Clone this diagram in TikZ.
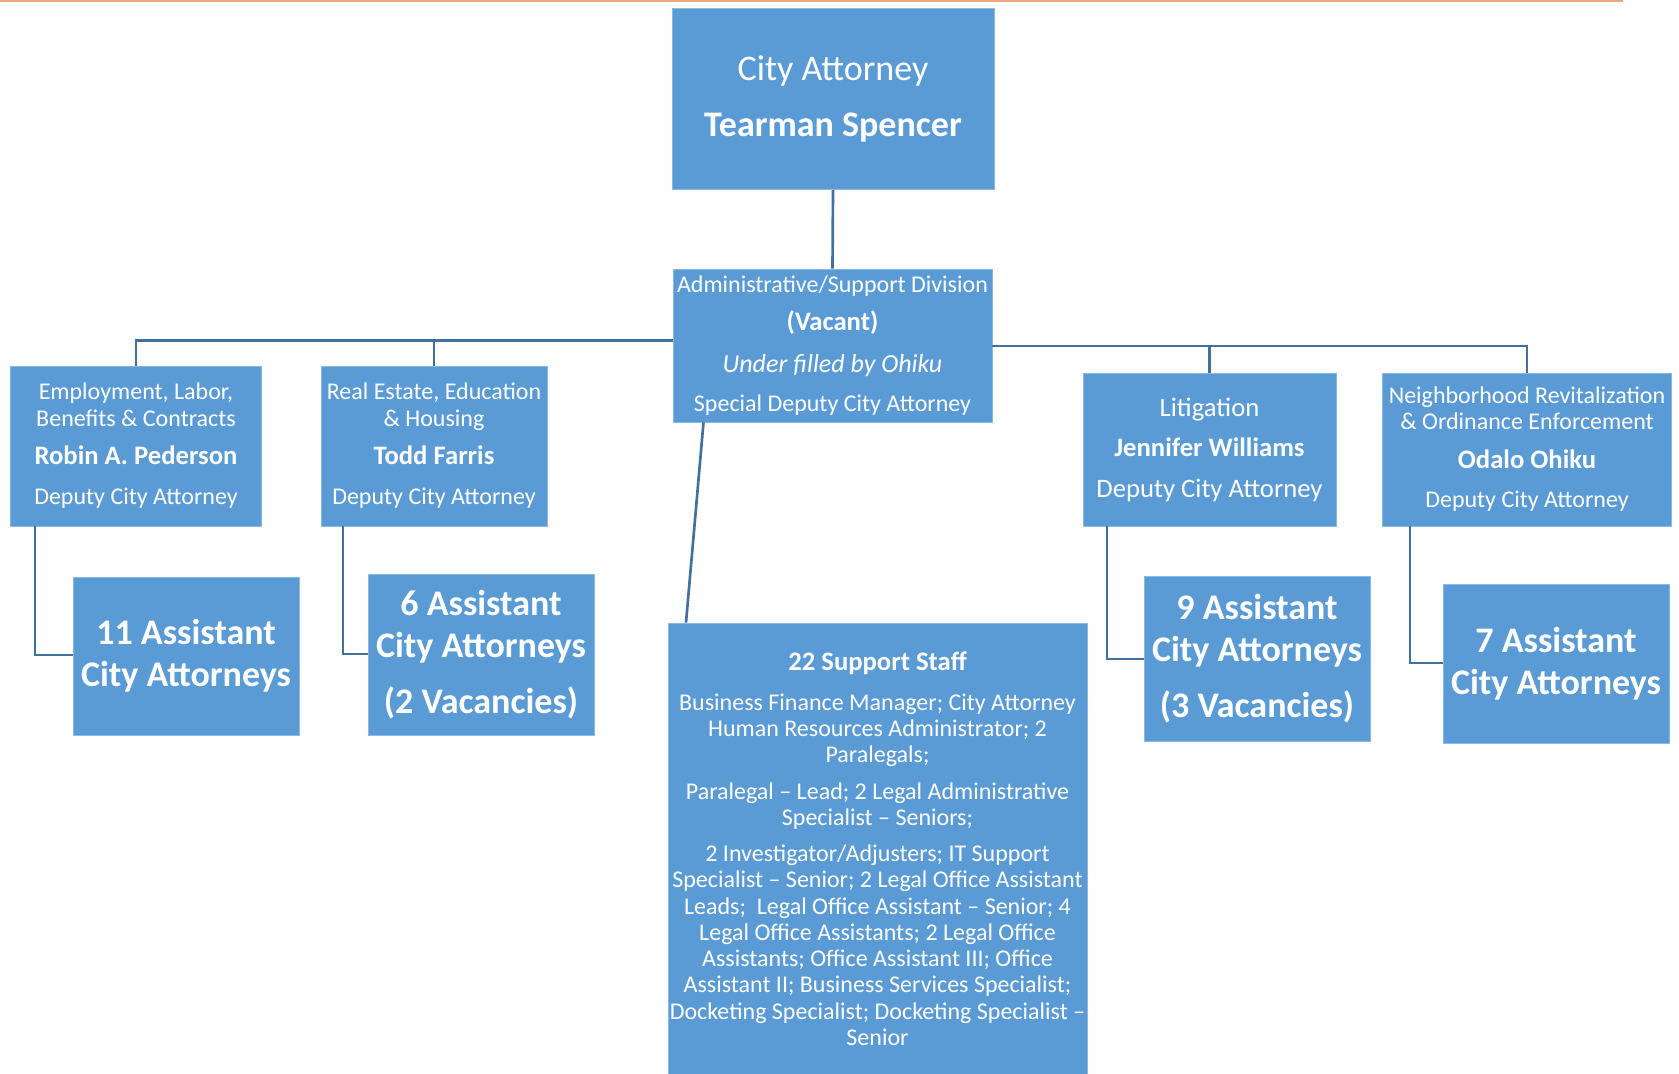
\documentclass[tikz,border=0pt]{standalone}
\usepackage{fontspec}
\setmainfont{Carlito}
\definecolor{boxblue}{HTML}{5B9BD5}
\definecolor{linkblue}{HTML}{41719C}
\definecolor{topline}{HTML}{E8A87C}
\begin{document}
\begin{tikzpicture}[x=0.75pt,y=-0.75pt,
  orgbox/.style={fill=boxblue,draw=boxblue!70!white,line width=0.6pt,inner sep=0pt,align=center,text=white},
  link/.style={draw=linkblue,line width=2pt},
  rulestyle/.style={draw=topline,line width=1.5pt}]
\useasboundingbox (0,0) rectangle (1679,1074);
\draw[rulestyle] (0,1) -- (1623,1);

% top level
\node[orgbox,minimum width=241.5pt,minimum height=136pt,font=\fontsize{27}{42}\selectfont] (city) at (833,99)
  {City Attorney\\{\bfseries Tearman Spencer}};

\node[orgbox,minimum width=239.25pt,minimum height=114.75pt,font=\fontsize{18}{28.5}\selectfont] (admin) at (832.5,345.5)
  {Administrative/Support Division\\{\fontsize{20}{28.5}\selectfont\bfseries (Vacant)}\\[3pt]{\fontsize{19.5}{28.5}\selectfont\itshape Under filled by Ohiku}\\[0.75pt]Special Deputy City Attorney};

% divisions
\node[orgbox,minimum width=188.25pt,minimum height=120pt,font=\fontsize{18}{20.25}\selectfont] (emp) at (136,446)
  {Employment, Labor,\\Benefits \& Contracts\\[8.25pt]{\fontsize{20}{20.25}\selectfont\bfseries Robin A. Pederson}\\[9.75pt]Deputy City Attorney};

\node[orgbox,minimum width=169.5pt,minimum height=120pt,font=\fontsize{18}{20.25}\selectfont] (realestate) at (434,446)
  {Real Estate, Education\\\& Housing\\[8.25pt]{\fontsize{20}{20.25}\selectfont\bfseries Todd Farris}\\[9.75pt]Deputy City Attorney};

\node[orgbox,minimum width=189.75pt,minimum height=114.75pt,font=\fontsize{20}{30}\selectfont] (lit) at (1209.5,449.5)
  {Litigation\\{\bfseries Jennifer Williams}\\[0.75pt]Deputy City Attorney};

\node[orgbox,minimum width=216.75pt,minimum height=114.75pt,font=\fontsize{18}{19.5}\selectfont] (neigh) at (1527,449.5)
  {Neighborhood Revitalization\\\& Ordinance Enforcement\\[9.75pt]{\fontsize{20}{19.5}\selectfont\bfseries Odalo Ohiku}\\[9.75pt]Deputy City Attorney};

% assistant boxes
\node[orgbox,minimum width=169.5pt,minimum height=118.5pt,font=\fontsize{27}{31.5}\selectfont\bfseries] (a11) at (186,656)
  {11 Assistant\\City Attorneys};
\node[orgbox,minimum width=169.5pt,minimum height=120.75pt,font=\fontsize{27}{31.5}\selectfont\bfseries] (a6) at (481,654.5)
  {6 Assistant\\City Attorneys\\[10.5pt](2 Vacancies)};
\node[orgbox,minimum width=169.5pt,minimum height=123.75pt,font=\fontsize{27}{31.5}\selectfont\bfseries] (a9) at (1257,658.5)
  {9 Assistant\\City Attorneys\\[10.5pt](3 Vacancies)};
\node[orgbox,minimum width=169.5pt,minimum height=119.25pt,font=\fontsize{27}{31.5}\selectfont\bfseries] (a7) at (1556,663.5)
  {7 Assistant\\City Attorneys};

% support staff
\node[orgbox,minimum width=314.25pt,minimum height=338.25pt,font=\fontsize{18}{19.7}\selectfont] (support) at (877.5,848.5)
  {{\fontsize{20}{19.7}\selectfont\bfseries 22 Support Staff}\\[10.5pt]
   Business Finance Manager; City Attorney\\
   Human Resources Administrator; 2\\
   Paralegals;\\[7.5pt]
   Paralegal – Lead; 2 Legal Administrative\\
   Specialist – Seniors;\\[7.5pt]
   2 Investigator/Adjusters; IT Support\\
   Specialist – Senior; 2 Legal Office Assistant\\
   Leads;\ \ Legal Office Assistant – Senior; 4\\
   Legal Office Assistants; 2 Legal Office\\
   Assistants; Office Assistant III; Office\\
   Assistant II; Business Services Specialist;\\
   Docketing Specialist; Docketing Specialist –\\
   Senior};

% connectors
\coordinate (busL) at (136,340.5);
\coordinate (busR) at (1527,346);
\coordinate (e1) at (35,655);
\coordinate (e2) at (343,654);
\coordinate (e3) at (1107,659);
\coordinate (e4) at (1410,663);
\coordinate (s1) at (703.5,0);
\coordinate (s2) at (686,0);

\draw[link] (city.south) -- (admin.north);
\draw[link] (admin.west |- busL) -- (busL) -- (emp.north);
\draw[link] (realestate.north) -- (realestate.north |- busL);
\draw[link] (admin.east |- busR) -- (busR) -- (neigh.north);
\draw[link] (lit.north) -- (lit.north |- busR);
\draw[link] (emp.south -| e1) -- (e1) -- (a11.west |- e1);
\draw[link] (realestate.south -| e2) -- (e2) -- (a6.west |- e2);
\draw[link] (lit.south -| e3) -- (e3) -- (a9.west |- e3);
\draw[link] (neigh.south -| e4) -- (e4) -- (a7.west |- e4);
\draw[link] (admin.south -| s1) -- (support.north -| s2);
\end{tikzpicture}
\end{document}
